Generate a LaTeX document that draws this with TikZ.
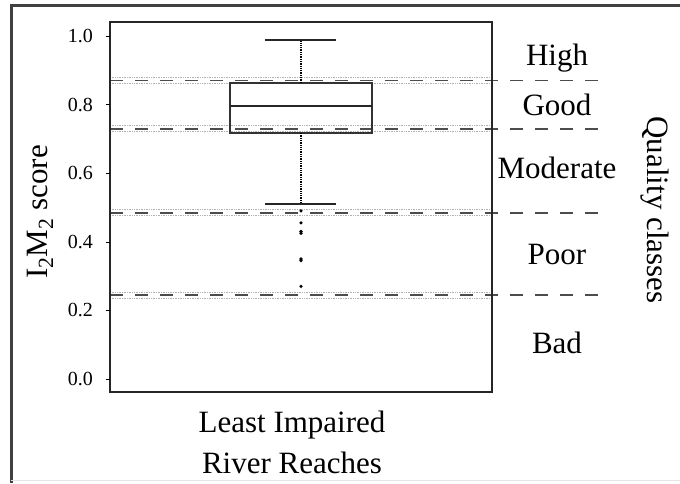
\documentclass[tikz,border=0pt]{standalone}
\usepackage{fontspec}
\setmainfont{Liberation Serif}
\begin{document}
\begin{tikzpicture}[x=1pt,y=-1pt,
    declare function={sy(\v)=379-343*\v;},
    every node/.append style={inner sep=0pt},
    ticklabel/.style={anchor=east,font=\fontsize{20}{20}\selectfont},
    classlabel/.style={font=\fontsize{31}{31}\selectfont},
    limit/.style={dash pattern=on 13pt off 12pt,line width=1.8pt,black!70},
    band/.style={densely dotted,gray!60,line width=0.7pt}]
  \useasboundingbox (0,0) rectangle (680,483);
  % frame of the figure
  \draw [line width=3pt,black!75] (11,483)--(11,5)--(680,5);
  \draw [gray!20] (11,480)--(680,480);

  % class limits
  \foreach \v in {0.87,0.73,0.485,0.245} {
    \draw [band] (110,{sy(\v)-3})--(492,{sy(\v)-3});
    \draw [band] (110,{sy(\v)+3})--(492,{sy(\v)+3});
    \draw [limit] (110,{sy(\v)})--(607,{sy(\v)});
  }

  % plot area and axis
  \draw [line width=1.5pt,black!85] (110,22) rectangle (492,392);
  \foreach \v/\t in {1.0/1.0,0.8/0.8,0.6/0.6,0.4/0.4,0.2/0.2,0.0/0.0} {
    \draw [thin] (106,{sy(\v)})--(110,{sy(\v)});
    \node [ticklabel] at (93,{sy(\v)}) {\t};
  }

  % box and whiskers
  \draw [line width=1.6pt,black!80] (230,{sy(0.717)}) rectangle (372,{sy(0.863)});
  \draw [line width=2.2pt,black!85] (230,{sy(0.796)})--(372,{sy(0.796)});
  \draw [densely dotted,line width=1.3pt] (301,{sy(0.863)})--(301,{sy(0.988)});
  \draw [densely dotted,line width=1.3pt] (301,{sy(0.717)})--(301,{sy(0.51)});
  \draw [line width=1.5pt,black!85] (265,{sy(0.988)})--(336,{sy(0.988)});
  \draw [line width=1.5pt,black!85] (265,{sy(0.51)})--(336,{sy(0.51)});
  \foreach \v in {0.49,0.455,0.43,0.425,0.35,0.345,0.27}
    \fill (301,{sy(\v)}) circle (1.8);

  % labels
  \node [classlabel] (High) at (557,58) {High};
  \node [classlabel] (Good) at (557,105) {Good};
  \node [classlabel] (Moderate) at (557,168) {Moderate};
  \node [classlabel] (Poor) at (557,254) {Poor};
  \node [classlabel] (Bad) at (557,343) {Bad};
  \node [classlabel,rotate=-90] (Classes) at (655,210) {Quality classes};
  \node [classlabel,rotate=90] (Score) at (40,212) {I\textsubscript{2}M\textsubscript{2} score};
  \node [classlabel,align=center,font=\fontsize{31}{41}\selectfont] (Reaches) at (292,442)
    {Least Impaired\\River Reaches};
\end{tikzpicture}
\end{document}
